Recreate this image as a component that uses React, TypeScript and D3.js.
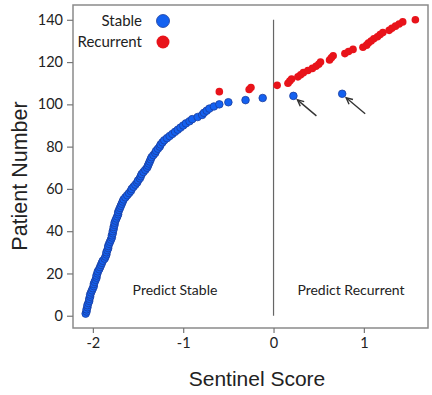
import React, { useEffect, useRef } from "react";
import * as d3 from "d3";

// sentinel scores, sorted, patients 1..105 (stable) and 106..140 (recurrent)
const stableScores = [
  -2.08, -2.07, -2.07, -2.06, -2.06, -2.05, -2.04, -2.04, -2.03, -2.03,
  -2.02, -2.01, -2.0, -1.99, -1.99, -1.98, -1.97, -1.96, -1.96, -1.95,
  -1.945, -1.93, -1.92, -1.91, -1.9, -1.89, -1.87, -1.86, -1.85, -1.85,
  -1.84, -1.83, -1.83, -1.82, -1.81, -1.8, -1.79, -1.79, -1.78, -1.78,
  -1.77, -1.77, -1.76, -1.76, -1.75, -1.74, -1.73, -1.72, -1.72, -1.71,
  -1.7, -1.69, -1.68, -1.67, -1.66, -1.64, -1.62, -1.6, -1.58, -1.57,
  -1.55, -1.53, -1.51, -1.5, -1.48, -1.47, -1.46, -1.44, -1.42, -1.4,
  -1.39, -1.38, -1.37, -1.36, -1.35, -1.33, -1.31, -1.3, -1.28, -1.26,
  -1.25, -1.23, -1.21, -1.18, -1.15, -1.12, -1.09, -1.06, -1.03, -1.0,
  -0.97, -0.93, -0.9, -0.84, -0.79, -0.77, -0.74, -0.71, -0.66, -0.6,
  -0.5, -0.31, -0.12, 0.22, 0.76,
];

const recurrentScores = [
  -0.6, -0.27, -0.25, 0.04, 0.16, 0.18, 0.2, 0.27, 0.3, 0.33,
  0.38, 0.43, 0.47, 0.5, 0.52, 0.62, 0.64, 0.66, 0.79, 0.83,
  0.88, 0.99, 1.03, 1.05, 1.08, 1.11, 1.15, 1.18, 1.21, 1.28,
  1.31, 1.35, 1.39, 1.43, 1.57,
];

// misclassified stable patients marked with arrows
const arrowPatients = [104, 105];

const xTicks = [-2, -1, 0, 1];
const yTicks = [0, 20, 40, 60, 80, 100, 120, 140];

const BLUE = "#1461f0";
const BLUE_EDGE = "#1b3d9e";
const RED = "#e8131a";

const App = () => {
  const svgRef = useRef<SVGSVGElement>(null);

  useEffect(() => {
    const width = 432;
    const height = 395;
    const left = 73, right = 428, top = 5, bottom = 328;

    const svg = d3.select(svgRef.current);
    svg.selectAll("*").remove();

    const x = d3.scaleLinear().domain([-2.22, 1.71]).range([left, right]);
    const y = d3.scaleLinear().domain([-5.8, 147]).range([bottom, top]);

    const stable = stableScores.map((s, i) => ({ score: s, patient: i + 1 }));
    const recurrent = recurrentScores.map((s, i) => ({
      score: s,
      patient: stableScores.length + i + 1,
    }));

    svg
      .append("rect")
      .attr("width", width)
      .attr("height", height)
      .attr("fill", "white");

    // frame
    svg
      .append("rect")
      .attr("x", left)
      .attr("y", top)
      .attr("width", right - left)
      .attr("height", bottom - top)
      .attr("fill", "none")
      .attr("stroke", "#8a8a8a")
      .attr("stroke-width", 1.5);

    const tickFont = "Lato, 'Open Sans', sans-serif";
    const plain = (d) => String(d);

    const yAxis = svg
      .append("g")
      .attr("transform", `translate(${left},0)`)
      .call(d3.axisLeft(y).tickValues(yTicks).tickFormat(plain).tickSize(6).tickPadding(4));
    const xAxis = svg
      .append("g")
      .attr("transform", `translate(0,${bottom})`)
      .call(d3.axisBottom(x).tickValues(xTicks).tickFormat(plain).tickSize(5).tickPadding(5));

    [yAxis, xAxis].forEach((g) => {
      g.select(".domain").remove();
      g.selectAll("line").attr("stroke", "#777").attr("stroke-width", 1.2);
      g.selectAll("text")
        .attr("fill", "#222")
        .style("font-family", tickFont)
        .style("font-size", "14.5px");
    });

    // threshold line at 0
    svg
      .append("line")
      .attr("x1", x(0))
      .attr("x2", x(0))
      .attr("y1", y(140))
      .attr("y2", y(0))
      .attr("stroke", "#666")
      .attr("stroke-width", 1.2);

    svg
      .append("g")
      .selectAll("circle")
      .data(stable)
      .join("circle")
      .attr("cx", (d) => x(d.score))
      .attr("cy", (d) => y(d.patient))
      .attr("r", 3.8)
      .attr("fill", BLUE)
      .attr("stroke", BLUE_EDGE)
      .attr("stroke-width", 0.8);

    svg
      .append("g")
      .selectAll("circle")
      .data(recurrent)
      .join("circle")
      .attr("cx", (d) => x(d.score))
      .attr("cy", (d) => y(d.patient))
      .attr("r", 3.8)
      .attr("fill", RED);

    // arrows pointing at the outlier stable points
    const arrowG = svg.append("g").attr("stroke", "#333").attr("stroke-width", 1.4).attr("fill", "none");
    arrowPatients.forEach((p) => {
      const d = stable[p - 1];
      const px = x(d.score);
      const py = y(d.patient);
      const tx = px + 4, ty = py + 4;
      const ex = px + 23, ey = py + 20;
      const ang = Math.atan2(ey - ty, ex - tx);
      const head = 7;
      arrowG
        .append("line")
        .attr("x1", tx)
        .attr("y1", ty)
        .attr("x2", ex)
        .attr("y2", ey);
      arrowG
        .append("path")
        .attr(
          "d",
          `M${tx + head * Math.cos(ang - 0.45)},${ty + head * Math.sin(ang - 0.45)}L${tx},${ty}L${tx + head * Math.cos(ang + 0.45)},${ty + head * Math.sin(ang + 0.45)}`
        );
    });

    // legend
    const legend = [
      { label: "Stable", color: BLUE, edge: BLUE_EDGE, cy: 21 },
      { label: "Recurrent", color: RED, edge: "none", cy: 42 },
    ];
    legend.forEach((l) => {
      svg
        .append("text")
        .attr("x", 142)
        .attr("y", l.cy + 5)
        .attr("text-anchor", "end")
        .attr("fill", "#222")
        .style("font-family", tickFont)
        .style("font-size", "15px")
        .text(l.label);
      svg
        .append("circle")
        .attr("cx", 163)
        .attr("cy", l.cy)
        .attr("r", 6.5)
        .attr("fill", l.color)
        .attr("stroke", l.edge)
        .attr("stroke-width", 0.8);
    });

    // region labels
    [
      { text: "Predict Stable", cx: 175 },
      { text: "Predict Recurrent", cx: 351 },
    ].forEach((r) => {
      svg
        .append("text")
        .attr("x", r.cx)
        .attr("y", 295)
        .attr("text-anchor", "middle")
        .attr("fill", "#222")
        .style("font-family", tickFont)
        .style("font-size", "14px")
        .text(r.text);
    });

    // axis titles
    svg
      .append("text")
      .attr("x", 257)
      .attr("y", 386)
      .attr("text-anchor", "middle")
      .attr("fill", "#222")
      .style("font-family", "'Liberation Sans', Arial, sans-serif")
      .style("font-size", "21px")
      .text("Sentinel Score");

    svg
      .append("text")
      .attr("transform", "translate(27,176) rotate(-90)")
      .attr("text-anchor", "middle")
      .attr("fill", "#222")
      .style("font-family", "'Liberation Sans', Arial, sans-serif")
      .style("font-size", "21.5px")
      .text("Patient Number");
  }, []);

  return (
    <svg
      ref={svgRef}
      width={432}
      height={395}
      style={{ position: "absolute", left: 0, top: 0, display: "block" }}
    />
  );
};

export default App;
